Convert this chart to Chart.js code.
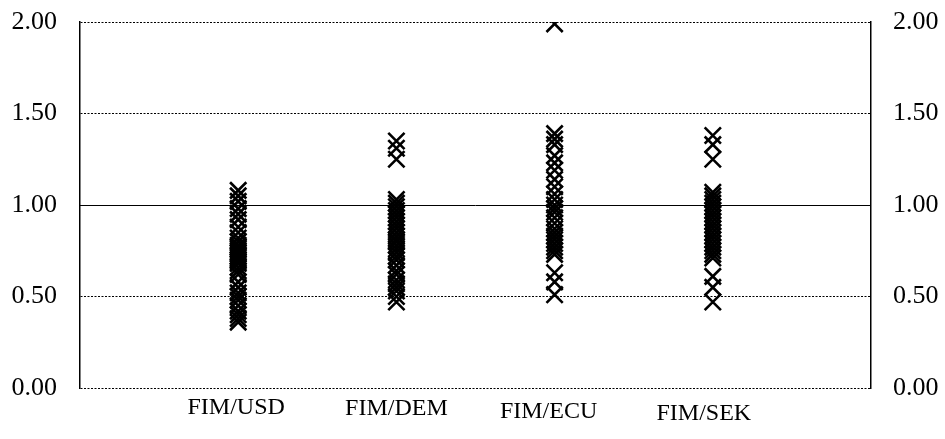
<!DOCTYPE html>
<html>
<head>
<meta charset="utf-8">
<script src="https://cdn.jsdelivr.net/npm/chart.js@4/dist/chart.umd.min.js"></script>
<style>
  html, body { margin: 0; padding: 0; background: #fff; }
  canvas { display: block; }
</style>
</head>
<body>
<canvas id="c" width="945" height="439"></canvas>
<script>
// Currency pairs shown along the horizontal axis
const pairs = ['FIM/USD', 'FIM/DEM', 'FIM/ECU', 'FIM/SEK'];

// Observed ratios for each pair
const usdValues = [1.08, 1.05, 1.02, 0.98, 0.95, 0.92, 0.88, 0.85, 0.82, 0.80, 0.78, 0.77,
  0.76, 0.75, 0.74, 0.73, 0.72, 0.71, 0.70, 0.69, 0.68, 0.66, 0.64, 0.62, 0.58, 0.55,
  0.52, 0.50, 0.48, 0.45, 0.42, 0.40, 0.38, 0.36];
const demValues = [1.35, 1.31, 1.25, 1.03, 1.01, 0.99, 0.97, 0.95, 0.93, 0.91, 0.89, 0.87,
  0.85, 0.83, 0.81, 0.80, 0.78, 0.76, 0.74, 0.72, 0.70, 0.67, 0.64, 0.62, 0.59, 0.57,
  0.55, 0.53, 0.50, 0.47];
const ecuValues = [1.99, 1.39, 1.36, 1.33, 1.27, 1.23, 1.19, 1.14, 1.10, 1.06, 1.03, 1.00,
  0.98, 0.96, 0.93, 0.90, 0.87, 0.85, 0.83, 0.81, 0.79, 0.77, 0.75, 0.73, 0.63, 0.58, 0.51];
const sekValues = [1.38, 1.33, 1.25, 1.07, 1.05, 1.03, 1.01, 0.99, 0.97, 0.95, 0.93, 0.91,
  0.89, 0.87, 0.85, 0.83, 0.81, 0.79, 0.77, 0.75, 0.73, 0.71, 0.61, 0.55, 0.47];

// Vertical axis ticks and the reference level drawn as a solid line
const yTicks = [0, 0.5, 1.0, 1.5, 2.0];
const referenceLevel = 1.0;

const seriesValues = [usdValues, demValues, ecuValues, sekValues];

const datasets = seriesValues.map((vals, i) => ({
  label: pairs[i],
  data: vals.map(v => ({ x: i + 1, y: v })),
  pointStyle: 'crossRot',
  pointRadius: 11.5,
  pointHoverRadius: 11.5,
  pointBorderWidth: 2.6,
  borderColor: '#000',
  backgroundColor: '#000',
  showLine: false
}));

const serif = "'Liberation Serif', 'Times New Roman', Times, serif";

// Solid horizontal line at the reference level
const referenceLine = {
  id: 'referenceLine',
  beforeDatasetsDraw(chart) {
    const { ctx, chartArea, scales } = chart;
    const y = Math.round(scales.y.getPixelForValue(referenceLevel)) + 0.5;
    ctx.save();
    ctx.strokeStyle = '#000';
    ctx.lineWidth = 1;
    ctx.setLineDash([]);
    ctx.beginPath();
    ctx.moveTo(chartArea.left, y);
    ctx.lineTo(chartArea.right, y);
    ctx.stroke();
    ctx.restore();
  }
};

// Category names under each column, nudged slightly as in the printed layout
const labelNudge = [[-2, 0], [0, 1], [-6, 4], [-9, 6]];
const categoryLabels = {
  id: 'categoryLabels',
  afterDraw(chart) {
    const { ctx, chartArea, scales } = chart;
    ctx.save();
    ctx.fillStyle = '#000';
    ctx.font = '24px ' + serif;
    ctx.textAlign = 'center';
    ctx.textBaseline = 'top';
    pairs.forEach((p, i) => {
      const x = scales.x.getPixelForValue(i + 1) + labelNudge[i][0];
      ctx.fillText(p, x, chartArea.bottom + 8 + labelNudge[i][1]);
    });
    ctx.restore();
  }
};

const yTickOpts = (pad) => ({
  padding: pad,
  color: '#000',
  font: { family: serif, size: 26 },
  callback: v => Number(v).toFixed(2)
});

// Fixed axis widths; label overhang is handled by the layout padding instead
const fitVertical = (w) => (s) => {
  s.width = w;
  s.paddingTop = 0;
  s.paddingBottom = 0;
};

new Chart(document.getElementById('c'), {
  type: 'scatter',
  data: { datasets },
  plugins: [referenceLine, categoryLabels],
  options: {
    responsive: false,
    animation: false,
    events: [],
    layout: { padding: { top: 22, right: 0, bottom: 0, left: 0 } },
    plugins: { legend: { display: false }, tooltip: { enabled: false } },
    scales: {
      x: {
        type: 'linear',
        min: 0,
        max: 5,
        afterBuildTicks: s => { s.ticks = pairs.map((p, i) => ({ value: i + 1 })); },
        afterFit: s => { s.height = 51; s.paddingLeft = 0; s.paddingRight = 0; },
        grid: { display: false, drawTicks: false },
        border: { display: false },
        ticks: { display: false }
      },
      y: {
        position: 'left',
        min: 0,
        max: 2,
        afterBuildTicks: s => { s.ticks = yTicks.map(v => ({ value: v })); },
        afterFit: fitVertical(80),
        grid: { color: '#000', lineWidth: 1, drawTicks: false },
        border: { display: true, color: '#000', width: 1.5, dash: [2, 1.5] },
        ticks: yTickOpts(23)
      },
      y2: {
        position: 'right',
        min: 0,
        max: 2,
        afterBuildTicks: s => { s.ticks = yTicks.map(v => ({ value: v })); },
        afterFit: fitVertical(74),
        grid: { display: false, drawTicks: false },
        border: { display: true, color: '#000', width: 1.5 },
        ticks: yTickOpts(22)
      }
    }
  }
});
</script>
</body>
</html>
